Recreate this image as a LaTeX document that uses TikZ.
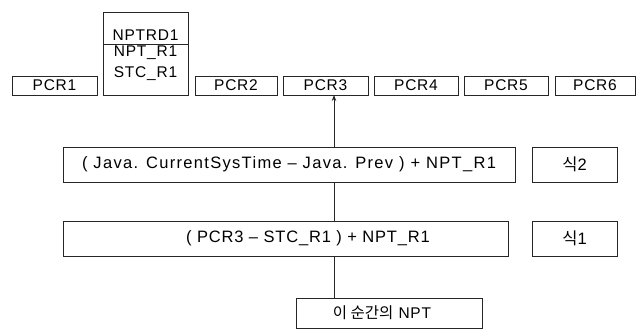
\documentclass[tikz,border=0pt]{standalone}
\usepackage{fontspec}
\setmainfont{Liberation Sans}[LetterSpace=5]
\newfontfamily\kr{Noto Sans CJK KR}
\newfontfamily\widefam{Liberation Sans}[LetterSpace=8]
\newfontfamily\midfam{Liberation Sans}[LetterSpace=5]
\usetikzlibrary{arrows.meta}
\begin{document}
\begin{tikzpicture}[x=1pt,y=-1pt,
  box/.style={draw=black!85,line width=0.8pt,inner sep=0pt,font=\fontsize{15}{17}\selectfont},
  lbl/.style={inner sep=0pt,font=\fontsize{15.5}{18}\selectfont},
  flbl/.style={inner sep=0pt,font=\widefam\fontsize{16.5}{19}\selectfont},
  glbl/.style={inner sep=0pt,font=\midfam\fontsize{16.5}{19}\selectfont},
  conn/.style={draw=black!85,line width=0.9pt}]
\useasboundingbox (0,0) rectangle (644,329);
% PCR row
\foreach \n/\a/\b in {pcrA/12/97,pcrB/195/277,pcrC/283/368,pcrD/374/458,pcrE/464/548,pcrF/555/635}{
  \node[box,minimum width={\b-\a},minimum height=19] (\n) at ({(\a+\b)/2},85.5) {};
}
\node[lbl] (tA) at (pcrA) {PCR1};
\node[lbl] (tB) at (pcrB) {PCR2};
\node[lbl] (tC) at (pcrC) {PCR3};
\node[lbl] (tD) at (pcrD) {PCR4};
\node[lbl] (tE) at (pcrE) {PCR5};
\node[lbl] (tF) at (pcrF) {PCR6};
% stack
\node[box,minimum width=85,minimum height=32] (stk1) at (145.5,28) {};
\node[box,minimum width=85,minimum height=51] (stk2) at (145.5,69.5) {};
\node[lbl] (s1) at (145.5,35) {NPTRD1};
\node[lbl] (s2) at (145.5,53) {NPT\_R1};
\node[lbl] (s3) at (145.5,74) {STC\_R1};
% formula boxes
\node[box,minimum width=452,minimum height=35] (java) at (289,164.5) {};
\node[flbl] (javat) at (289,164.5) {( Java. CurrentSysTime – Java. Prev ) + NPT\_R1};
\node[box,minimum width=85,minimum height=35] (eq2) at (574.5,164.5) {};
\node[flbl] (eq2t) at (eq2) {{\kr 식}2};
\node[box,minimum width=445,minimum height=35] (pcr) at (285.5,238.5) {};
\node[glbl,anchor=west] (pcrt) at (186,238.5) {( PCR3 – STC\_R1 ) + NPT\_R1};
\node[box,minimum width=85,minimum height=35] (eq1) at (574.5,238.5) {};
\node[flbl] (eq1t) at (eq1) {{\kr 식}1};
\node[box,minimum width=186,minimum height=30] (npt) at (389,313) {};
\node[lbl] (nptt) at (382,313) {{\kr 이 순간의} NPT};
% connectors
\coordinate (c1) at (334,298);
\coordinate (c2) at (334,256);
\coordinate (c3) at (334,221);
\coordinate (c4) at (334,182);
\coordinate (c5) at (334,147);
\coordinate (c6) at (334,95);
\draw[conn] (c1) -- (c2);
\draw[conn] (c3) -- (c4);
\draw[conn,-{Stealth[length=6pt,width=4.5pt]}] (c5) -- (c6);
\end{tikzpicture}
\end{document}
